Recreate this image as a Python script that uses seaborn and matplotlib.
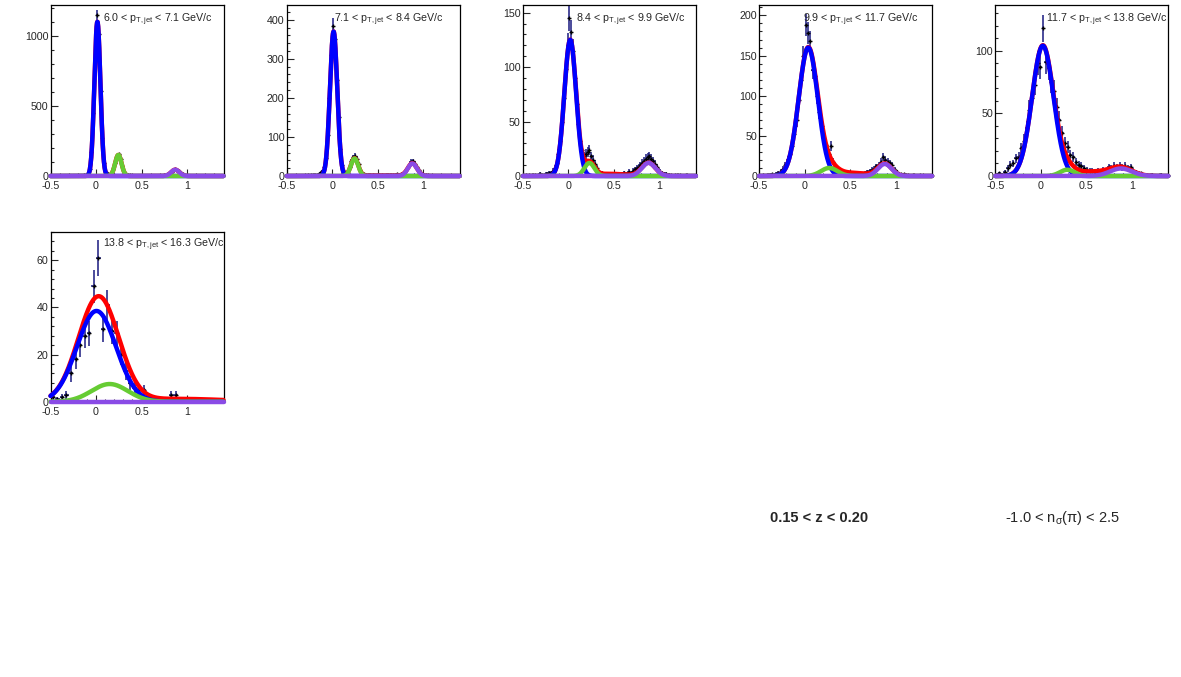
import numpy as np
import seaborn as sns
import matplotlib.pyplot as plt
from matplotlib.ticker import MultipleLocator, FuncFormatter

# jet pT bins, one pad each
pt_lo = ["6.0", "7.1", "8.4", "9.9", "11.7", "13.8"]
pt_hi = ["7.1", "8.4", "9.9", "11.7", "13.8", "16.3"]

x_lo, x_hi = -0.5, 1.4
bin_width = [0.02, 0.02, 0.02, 0.025, 0.03, 0.05]

# histogram contents (bins start at x_lo)
counts_1 = [0, 0, 1, 0, 0, 1, 0, 0, 1, 1, 0, 1, 1, 2, 1,
            2, 2, 3, 4, 6, 14, 48, 170, 450, 840, 1150, 1010, 610, 270, 90,
            25, 12, 14, 22, 50, 95, 140, 155, 120, 70, 30, 12, 6, 4, 3,
            2, 2, 1, 2, 1, 1, 2, 1, 1, 2, 1,
            2, 1, 2, 3, 2, 3,
            4, 7, 12, 20, 32, 44, 50, 42, 33, 20, 11, 6, 3,
            2, 2, 1, 1, 1, 0, 1, 0, 0, 1, 0, 0, 0, 1, 0, 0, 0, 0, 0, 0]
counts_2 = [0, 1, 0, 0, 1, 0, 1, 1, 0, 1, 1, 2, 1, 2, 2,
            3, 3, 5, 8, 12, 22, 45, 105, 200, 310, 385, 352, 245, 150, 68,
            28, 12, 8, 12, 22, 38, 48, 52, 44, 30, 16, 8, 4, 3, 2,
            2, 1, 2, 1, 1, 2, 1, 2, 1, 2, 2,
            2, 3, 2, 3, 4, 3,
            4, 6, 10, 16, 24, 32, 37, 38, 32, 24, 15, 8, 5,
            3, 2, 2, 1, 1, 1, 0, 1, 1, 0, 0, 1, 0, 0, 0, 1, 0, 0, 0, 0]
counts_3 = [0, 1, 0, 1, 0, 1, 1, 0, 1, 2, 1, 1, 2, 2, 3,
            3, 5, 7, 12, 20, 32, 50, 72, 98, 120, 145, 132, 115, 90, 66,
            48, 32, 24, 18, 20, 22, 24, 18, 15, 11, 7, 5, 3, 3, 2,
            2, 1, 2, 1, 2, 1, 2, 2, 1, 2, 3,
            2, 3, 4, 3, 5, 6,
            7, 8, 10, 12, 14, 16, 17, 18, 16, 14, 11, 8, 5,
            4, 3, 2, 2, 1, 1, 1, 0, 1, 1, 0, 1, 0, 0, 1, 0, 0, 0, 0, 0]
counts_4 = [0, 1, 0, 1, 1, 2, 1, 3, 4, 6, 9, 14, 20, 27, 37, 52, 70, 95, 120, 150,
            188, 178, 168, 132, 125, 100, 80, 62, 45, 39, 28, 37, 18, 12, 8, 6, 4, 3, 3, 2,
            2, 2, 3, 2, 3, 3, 4, 5, 6, 8, 9, 12, 14, 18, 24, 20, 18, 16, 14, 8,
            5, 3, 2, 2, 1, 1, 0, 1, 0, 0, 1, 0, 0, 0, 0, 0]
counts_5 = [1, 2, 1, 3, 6, 9, 10, 14, 15, 22, 28, 38, 53, 62, 73, 90, 87, 118, 91, 86,
            75, 68, 55, 45, 34, 26, 23, 17, 15, 11, 9, 8, 6, 5, 4, 4, 3, 4, 3, 5,
            4, 7, 6, 8, 7, 8, 7, 8, 6, 7, 4, 3, 2, 2, 1,
            1, 0, 1, 0, 0, 1, 0, 0]
counts_6 = [2, 1, 2, 3, 12, 18, 24, 28, 29, 49, 61, 31, 41, 30, 29, 20, 13, 8, 6, 5, 5,
            0, 0, 1, 0, 0, 3, 3, 0, 1, 0, 0, 0, 0, 0, 0, 0, 0]
counts = [counts_1, counts_2, counts_3, counts_4, counts_5, counts_6]

# fit components: (amplitude, mean, sigma)
pion = [(1100, 0.015, 0.033), (370, 0.015, 0.04), (125, 0.02, 0.065),
        (160, 0.04, 0.105), (104, 0.022, 0.118), (38.5, 0.005, 0.215)]
kaon = [(150, 0.245, 0.035), (45, 0.245, 0.04), (12, 0.23, 0.055),
        (10, 0.27, 0.09), (5, 0.29, 0.08), (7.5, 0.15, 0.2)]
proton = [(45, 0.87, 0.045), (32, 0.88, 0.05), (12, 0.88, 0.075),
          (15, 0.88, 0.075), (6, 0.88, 0.12), (0, 0.9, 0.1)]
other = [(0, 0.5, 0.2), (1.5, 0.55, 0.25), (2, 0.45, 0.2),
         (4, 0.5, 0.2), (3.5, 0.55, 0.25), (1.2, 0.9, 0.5)]

y_max = [1220, 438, 157, 213, 136.5, 72]
y_major = [500, 100, 50, 50, 50, 20]
y_minor = [100, 20, 10, 10, 10, 4]


def gaus(x, p):
    a, m, s = p
    return a * np.exp(-0.5 * ((x - m) / s) ** 2)


sns.set_style("white")
plt.rcParams["font.family"] = ["Liberation Sans", "DejaVu Sans"]
plt.rcParams["mathtext.fontset"] = "custom"
plt.rcParams["mathtext.rm"] = "Liberation Sans"
plt.rcParams["mathtext.it"] = "Liberation Sans"
plt.rcParams["mathtext.bf"] = "Liberation Sans:bold"
plt.rcParams["axes.unicode_minus"] = False

W, H = 1181, 677
fig = plt.figure(figsize=(W / 100, H / 100), dpi=100)

# pad frames in pixels: (left, top, right, bottom)
frames = [(50.5 + 236.2 * c, 5, 223.5 + 236.2 * c, 176) for c in range(5)]
frames.append((50.5, 232, 223.5, 401.7))
text_left = [103, 334, 576, 803, 1046, 103]

xs = np.linspace(x_lo, x_hi, 800)
fmt = FuncFormatter(lambda v, p: f"{v:g}")

for i in range(6):
    l, t, r, b = frames[i]
    ax = fig.add_axes([l / W, 1 - b / H, (r - l) / W, (b - t) / H])

    w = bin_width[i]
    y = np.array(counts[i], dtype=float)
    xc = x_lo + w * (np.arange(len(y)) + 0.5)
    keep = y > 0
    ax.errorbar(xc[keep], y[keep], xerr=w / 2, yerr=np.sqrt(y[keep]), fmt="+",
                color="#1a1a80", mec="black", ms=3.5, elinewidth=1.1, capsize=0,
                zorder=2)

    yp = gaus(xs, pion[i])
    yk = gaus(xs, kaon[i])
    ypr = gaus(xs, proton[i])
    total = yp + yk + ypr + gaus(xs, other[i])

    for yy, col, z in [(total, "#ff0000", 3), (yp, "#0000ff", 4),
                       (yk, "#66cc33", 5), (ypr, "#8a4be6", 6)]:
        sns.lineplot(x=xs, y=yy, ax=ax, color=col, lw=3.2, estimator=None,
                     sort=False, clip_on=False, zorder=z)

    ax.set_xlim(x_lo, x_hi)
    ax.set_ylim(0, y_max[i])
    ax.xaxis.set_major_locator(MultipleLocator(0.5))
    ax.xaxis.set_minor_locator(MultipleLocator(0.1))
    ax.yaxis.set_major_locator(MultipleLocator(y_major[i]))
    ax.yaxis.set_minor_locator(MultipleLocator(y_minor[i]))
    ax.xaxis.set_major_formatter(fmt)
    ax.yaxis.set_major_formatter(fmt)
    ax.tick_params(which="both", direction="in", top=False, right=False,
                   left=True, bottom=True, labelsize=7.7, width=0.8)
    ax.tick_params(axis="y", pad=1.5)
    ax.tick_params(axis="x", pad=3.5)
    ax.tick_params(which="major", length=5)
    ax.tick_params(which="minor", length=2.5)
    for s in ax.spines.values():
        s.set_linewidth(0.9)
        s.set_color("black")
    ax.set_xlabel("")
    ax.set_ylabel("")

    base = 21.7 if i < 5 else 247.3
    fig.text(text_left[i] / W, 1 - base / H,
             f"{pt_lo[i]} < p$_{{\\rm T,jet}}$ < {pt_hi[i]} GeV/c",
             fontsize=7.7, va="baseline", ha="left")

fig.text(819 / W, 1 - 521.7 / H, "0.15 < z < 0.20", fontsize=10.5,
         fontweight="bold", ha="center", va="baseline")
fig.text(1063 / W, 1 - 521.7 / H, r"-1.0 < n$_{\sigma}$(π) < 2.5",
         fontsize=10.5, ha="center", va="baseline")

fig.savefig("out.png", dpi=100)
